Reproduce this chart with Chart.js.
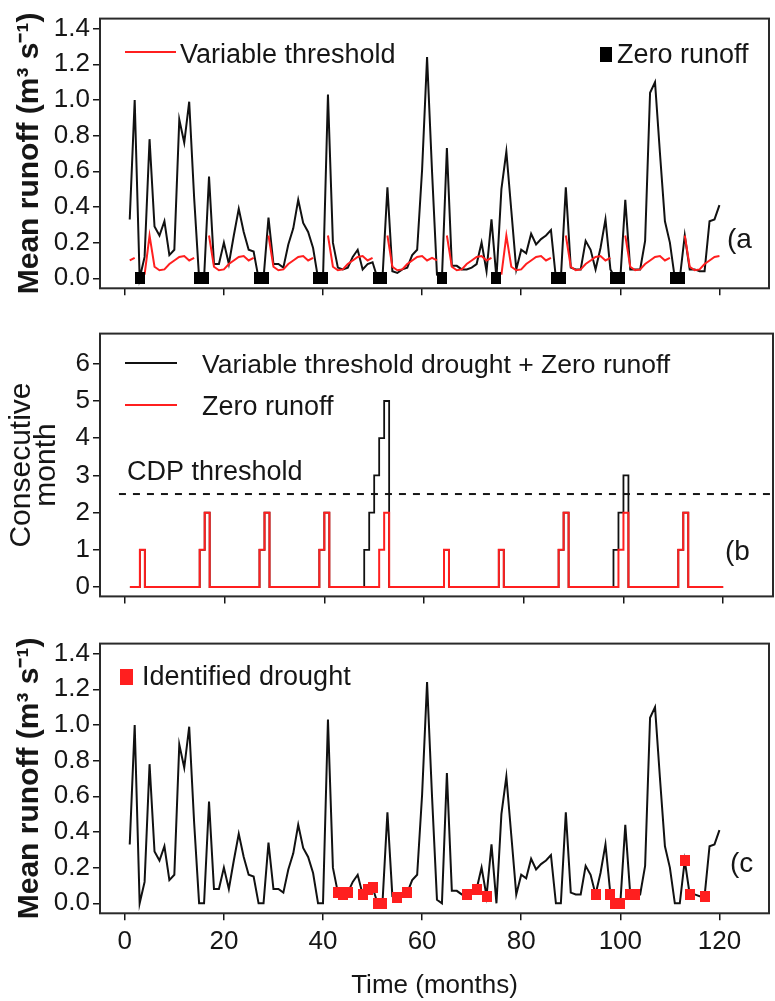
<!DOCTYPE html>
<html>
<head>
<meta charset="utf-8">
<title>Runoff drought panels</title>
<script src="https://cdn.jsdelivr.net/npm/chart.js@4.4.1/dist/chart.umd.min.js"></script>
<style>
  html, body { margin: 0; padding: 0; background: #fff; }
  #wrap { position: relative; width: 775px; height: 1001px; overflow: hidden; }
  canvas { position: absolute; left: 0; }
</style>
</head>
<body>
<div id="wrap">
  <canvas id="chartA" width="775" height="310" style="top:0px"></canvas>
  <canvas id="chartB" width="775" height="300" style="top:315px"></canvas>
  <canvas id="chartC" width="775" height="376" style="top:625px"></canvas>
</div>
<script>
// ===========================
// Data
// ===========================
const months = Array.from({ length: 120 }, (_, i) => i + 1);

// mean runoff, m3/s, months 1..120
const runoff = [
  0.33, 1.00, 0.00, 0.12, 0.78, 0.29, 0.24, 0.32, 0.13, 0.16, 0.89, 0.76,
  0.99, 0.45, 0.00, 0.00, 0.57, 0.08, 0.08, 0.20, 0.08, 0.24, 0.39, 0.26,
  0.16, 0.15, 0.00, 0.00, 0.34, 0.08, 0.08, 0.06, 0.19, 0.28, 0.44, 0.31,
  0.26, 0.17, 0.00, 0.00, 1.03, 0.20, 0.06, 0.05, 0.06, 0.12, 0.16, 0.05,
  0.08, 0.09, 0.00, 0.00, 0.51, 0.04, 0.03, 0.05, 0.06, 0.13, 0.16, 0.61,
  1.24, 0.60, 0.02, 0.00, 0.73, 0.07, 0.07, 0.05, 0.05, 0.06, 0.08, 0.20,
  0.04, 0.33, 0.00, 0.50, 0.71, 0.38, 0.05, 0.16, 0.14, 0.25, 0.19, 0.22,
  0.24, 0.27, 0.00, 0.00, 0.51, 0.06, 0.05, 0.05, 0.21, 0.16, 0.05, 0.17,
  0.33, 0.05, 0.00, 0.00, 0.44, 0.05, 0.05, 0.05, 0.21, 1.04, 1.10, 0.70,
  0.32, 0.20, 0.00, 0.00, 0.24, 0.05, 0.05, 0.04, 0.04, 0.32, 0.33, 0.41
];

// variable (monthly) threshold, not drawn where runoff is zero
const threshold = [
  0.100, 0.115, null, 0.020, 0.240, 0.065, 0.045, 0.050, 0.080, 0.100, 0.120, 0.125,
  0.100, 0.115, null, null, 0.240, 0.065, 0.045, 0.050, 0.080, 0.100, 0.120, 0.125,
  0.100, 0.115, null, null, 0.240, 0.065, 0.045, 0.050, 0.080, 0.100, 0.120, 0.125,
  0.100, 0.115, null, null, 0.240, 0.065, 0.045, 0.050, 0.080, 0.100, 0.120, 0.125,
  0.100, 0.115, null, null, 0.240, 0.065, 0.045, 0.050, 0.080, 0.100, 0.120, 0.125,
  0.100, 0.115, 0.100, null, 0.240, 0.065, 0.045, 0.050, 0.080, 0.100, 0.120, 0.125,
  0.100, 0.115, null, 0.020, 0.240, 0.065, 0.045, 0.050, 0.080, 0.100, 0.120, 0.125,
  0.100, 0.115, null, null, 0.240, 0.065, 0.045, 0.050, 0.080, 0.100, 0.120, 0.125,
  0.100, 0.115, null, null, 0.240, 0.065, 0.045, 0.050, 0.080, 0.100, 0.120, 0.125,
  0.100, 0.115, null, null, 0.240, 0.065, 0.045, 0.050, 0.080, 0.100, 0.120, 0.125
];

// consecutive months of zero runoff
const zeroRun = [
  0, 0, 1, 0, 0, 0, 0, 0, 0, 0, 0, 0,
  0, 0, 1, 2, 0, 0, 0, 0, 0, 0, 0, 0,
  0, 0, 1, 2, 0, 0, 0, 0, 0, 0, 0, 0,
  0, 0, 1, 2, 0, 0, 0, 0, 0, 0, 0, 0,
  0, 0, 1, 2, 0, 0, 0, 0, 0, 0, 0, 0,
  0, 0, 0, 1, 0, 0, 0, 0, 0, 0, 0, 0,
  0, 0, 1, 0, 0, 0, 0, 0, 0, 0, 0, 0,
  0, 0, 1, 2, 0, 0, 0, 0, 0, 0, 0, 0,
  0, 0, 1, 2, 0, 0, 0, 0, 0, 0, 0, 0,
  0, 0, 1, 2, 0, 0, 0, 0, 0, 0, 0, 0
];

// consecutive months of variable threshold drought + zero runoff
const droughtRun = [
  0, 0, 1, 0, 0, 0, 0, 0, 0, 0, 0, 0,
  0, 0, 1, 2, 0, 0, 0, 0, 0, 0, 0, 0,
  0, 0, 1, 2, 0, 0, 0, 0, 0, 0, 0, 0,
  0, 0, 1, 2, 0, 0, 0, 0, 0, 0, 0, 1,
  2, 3, 4, 5, 0, 0, 0, 0, 0, 0, 0, 0,
  0, 0, 0, 1, 0, 0, 0, 0, 0, 0, 0, 0,
  0, 0, 1, 0, 0, 0, 0, 0, 0, 0, 0, 0,
  0, 0, 1, 2, 0, 0, 0, 0, 0, 0, 0, 0,
  0, 1, 2, 3, 0, 0, 0, 0, 0, 0, 0, 0,
  0, 0, 1, 2, 0, 0, 0, 0, 0, 0, 0, 0
];

// months flagged as identified drought (panel c)
const droughtMonths = [43, 44, 45, 48, 49, 50, 51, 52, 55, 57, 69, 71, 73,
  95, 98, 99, 100, 102, 103, 113, 114, 117];

const cdpThreshold = 2.5;
const cdpX = [-1.2, 130];

const xTicks = [0, 20, 40, 60, 80, 100, 120];
const runoffTicks = [0, 0.2, 0.4, 0.6, 0.8, 1.0, 1.2, 1.4];
const countTicks = [0, 1, 2, 3, 4, 5, 6];

// ===========================
// Style
// ===========================
const FONT = "'Liberation Sans', Arial, sans-serif";
const INK = "#161616";
const RED = "#ff1f1f";

function squareMark(w, h, color) {
  const c = document.createElement("canvas");
  c.width = w;
  c.height = h;
  const g = c.getContext("2d");
  g.fillStyle = color;
  g.fillRect(0, 0, w, h);
  return c;
}
const blackSquare = squareMark(10, 12, "#000");
const redSquare = squareMark(10, 11, RED);

// box around the plot region, like R's box()
const boxPlugin = {
  id: "box",
  afterDatasetsDraw(chart) {
    const { ctx, chartArea: a } = chart;
    ctx.save();
    ctx.strokeStyle = "#2a2a2a";
    ctx.lineWidth = 2;
    ctx.strokeRect(a.left, a.top, a.right - a.left, a.bottom - a.top);
    ctx.restore();
  }
};

// legend entries and panel letters
const notesPlugin = {
  id: "notes",
  afterDraw(chart, args, opts) {
    const ctx = chart.ctx;
    ctx.save();
    (opts.items || []).forEach(it => {
      if (it.kind === "line") {
        ctx.strokeStyle = it.color;
        ctx.lineWidth = 2;
        ctx.beginPath();
        ctx.moveTo(it.x1, it.y);
        ctx.lineTo(it.x2, it.y);
        ctx.stroke();
      } else if (it.kind === "square") {
        ctx.fillStyle = it.color;
        ctx.fillRect(it.x, it.y, it.w, it.h);
      } else {
        ctx.font = `${it.size || 27}px ${FONT}`;
        ctx.fillStyle = INK;
        ctx.textBaseline = "alphabetic";
        ctx.textAlign = "left";
        ctx.fillText(it.text, it.x, it.y);
      }
    });
    ctx.restore();
  }
};

function xAxis(height, withLabels) {
  return {
    type: "linear",
    min: -5,
    max: 130,
    afterBuildTicks: s => { s.ticks = xTicks.map(v => ({ value: v })); },
    afterFit: s => { s.height = height; },
    border: { display: false },
    grid: { drawOnChartArea: false, drawTicks: true, tickLength: 7, color: INK, lineWidth: 1.5 },
    ticks: {
      autoSkip: false, maxRotation: 0, padding: 6, color: INK,
      font: { family: FONT, size: 26 },
      callback: v => withLabels ? String(v) : ""
    },
    title: withLabels
      ? { display: true, text: "Time (months)", color: INK, font: { family: FONT, size: 26 }, padding: { top: 0, bottom: 0 } }
      : { display: false }
  };
}

function yAxis(min, max, tickValues, fmt, title) {
  return {
    type: "linear",
    min, max,
    afterBuildTicks: s => { s.ticks = tickValues.map(v => ({ value: v })); },
    afterFit: s => { s.width = 100; },
    border: { display: false },
    grid: { drawOnChartArea: false, drawTicks: true, tickLength: 7, color: INK, lineWidth: 1.5 },
    ticks: { padding: 3, color: INK, font: { family: FONT, size: 26 }, callback: fmt },
    title
  };
}

const runoffTitle = {
  display: true, text: "Mean runoff (m³ s⁻¹)", color: INK,
  font: { family: FONT, size: 30, weight: "bold", lineHeight: 1.2 },
  padding: { top: 12, bottom: 0 }
};

const runoffPoints = months.map((m, i) => ({ x: m, y: runoff[i] }));

const baseOpts = {
  responsive: false,
  animation: false,
  devicePixelRatio: 1,
  events: []
};

// ===========================
// Panel (a)
// ===========================
new Chart(document.getElementById("chartA"), {
  type: "line",
  data: {
    datasets: [
      {
        label: "Zero runoff",
        data: months.filter((m, i) => runoff[i] === 0).map(m => ({ x: m, y: 0 })),
        showLine: false,
        pointStyle: blackSquare,
        pointRadius: 5
      },
      {
        label: "Variable threshold",
        data: months.map((m, i) => ({ x: m, y: threshold[i] })),
        borderColor: RED, borderWidth: 2, pointRadius: 0, tension: 0, spanGaps: false
      },
      {
        label: "Runoff",
        data: runoffPoints,
        borderColor: "#111", borderWidth: 2, pointRadius: 0, tension: 0
      }
    ]
  },
  options: {
    ...baseOpts,
    layout: { padding: { top: 12.7, right: 2, left: 0, bottom: 0 } },
    scales: {
      x: xAxis(21.7, false),
      y: yAxis(-0.056, 1.456, runoffTicks, v => v.toFixed(1), runoffTitle)
    },
    plugins: {
      legend: { display: false },
      tooltip: { enabled: false },
      notes: {
        items: [
          { kind: "line", x1: 125, x2: 176, y: 52, color: RED },
          { kind: "text", text: "Variable threshold", x: 180, y: 63 },
          { kind: "square", x: 600, y: 47, w: 12, h: 15, color: "#000" },
          { kind: "text", text: "Zero runoff", x: 617, y: 63 },
          { kind: "text", text: "(a", x: 727, y: 248, size: 28 }
        ]
      }
    }
  },
  plugins: [boxPlugin, notesPlugin]
});

// ===========================
// Panel (b)
// ===========================
new Chart(document.getElementById("chartB"), {
  type: "line",
  data: {
    datasets: [
      {
        label: "Zero runoff",
        data: months.map((m, i) => ({ x: m, y: zeroRun[i] })),
        borderColor: RED, borderWidth: 2, pointRadius: 0, stepped: true
      },
      {
        label: "Variable threshold drought + Zero runoff",
        data: months.map((m, i) => ({ x: m, y: droughtRun[i] })),
        borderColor: "#111", borderWidth: 1.8, pointRadius: 0, stepped: true
      },
      {
        label: "CDP threshold",
        data: cdpX.map(x => ({ x, y: cdpThreshold })),
        borderColor: INK, borderWidth: 2, borderDash: [7, 7], pointRadius: 0
      }
    ]
  },
  options: {
    ...baseOpts,
    layout: { padding: { top: 10, right: 2, left: 0, bottom: 0 } },
    scales: {
      x: xAxis(14.3, false),
      y: yAxis(-0.25, 6.81, countTicks, v => String(v), {
        display: true, text: ["Consecutive", "month"], color: INK,
        font: { family: FONT, size: 30, lineHeight: 0.833 },
        padding: { top: 9, bottom: 0 }
      })
    },
    plugins: {
      legend: { display: false },
      tooltip: { enabled: false },
      notes: {
        items: [
          { kind: "line", x1: 125, x2: 177, y: 48, color: "#111" },
          { kind: "text", text: "Variable threshold drought + Zero runoff", x: 202, y: 58, size: 26.5 },
          { kind: "line", x1: 125, x2: 177, y: 90, color: RED },
          { kind: "text", text: "Zero runoff", x: 202, y: 100 },
          { kind: "text", text: "CDP threshold", x: 127, y: 165 },
          { kind: "text", text: "(b", x: 725, y: 245, size: 28 }
        ]
      }
    }
  },
  plugins: [boxPlugin, notesPlugin]
});

// ===========================
// Panel (c)
// ===========================
new Chart(document.getElementById("chartC"), {
  type: "line",
  data: {
    datasets: [
      {
        label: "Identified drought",
        data: droughtMonths.map(m => ({ x: m, y: runoff[m - 1] })),
        showLine: false,
        pointStyle: redSquare,
        pointRadius: 5
      },
      {
        label: "Runoff",
        data: runoffPoints,
        borderColor: "#111", borderWidth: 2, pointRadius: 0, tension: 0
      }
    ]
  },
  options: {
    ...baseOpts,
    layout: { padding: { top: 11.7, right: 2, left: 0, bottom: 0 } },
    scales: {
      x: xAxis(87.7, true),
      y: yAxis(-0.056, 1.456, runoffTicks, v => v.toFixed(1), runoffTitle)
    },
    plugins: {
      legend: { display: false },
      tooltip: { enabled: false },
      notes: {
        items: [
          { kind: "square", x: 120, y: 44, w: 13, h: 16, color: RED },
          { kind: "text", text: "Identified drought", x: 142, y: 60 },
          { kind: "text", text: "(c", x: 730, y: 247, size: 28 }
        ]
      }
    }
  },
  plugins: [boxPlugin, notesPlugin]
});
</script>
</body>
</html>
